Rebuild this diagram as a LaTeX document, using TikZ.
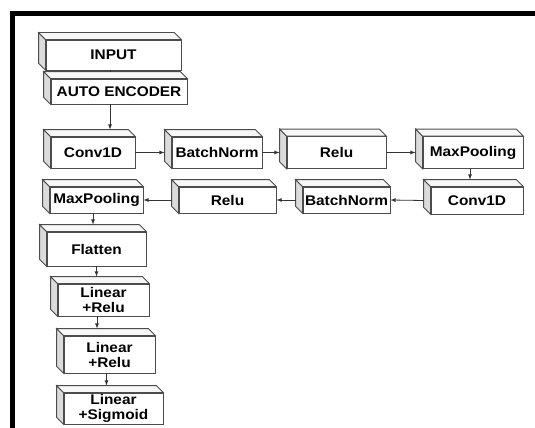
\documentclass[tikz,border=0pt]{standalone}
\usepackage{fontspec}
\newfontfamily\layerfont{Liberation Sans}[FakeStretch=1.1]
\usetikzlibrary{calc}

\tikzset{
	layer/.style={draw=black!70, line width=0.8pt, fill=white, inner sep=0pt, align=center,
		font=\layerfont\bfseries\fontsize{14}{15}\selectfont},
	sidefill/.style={draw=black!70, line width=0.8pt, fill=black!14},
	topfill/.style={draw=black!70, line width=0.8pt, fill=black!3},
	conn/.style={line width=0.8pt, draw=black!80},
}
% depth of the slanted faces
\newcommand{\dep}{7pt}
% left and top faces of a layer box, plus (name-top) on the back edge
\newcommand{\slab}[1]{%
	\draw[sidefill] (#1.north west) -- ++(-\dep,\dep) -- ([shift={(-\dep,\dep)}]#1.south west) -- (#1.south west) -- cycle;
	\draw[topfill] (#1.north west) -- ++(-\dep,\dep) -- ([shift={(-\dep,\dep)}]#1.north east) -- (#1.north east) -- cycle;
	\coordinate (#1-top) at ([shift={(-\dep,\dep)}]#1.north);
}

\begin{document}
\begin{tikzpicture}[x=1pt,y=-1pt]
	\useasboundingbox (0,0) rectangle (535,428);
	\draw[line width=5pt] (12,440) -- (12,13.5) -- (545,13.5);

	% encoder part
	\node[layer, minimum width=135, minimum height=30] (input) at (113.5,55) {INPUT};
	\node[layer, minimum width=136, minimum height=25] (auto) at (119,91.5) {AUTO ENCODER};
	\slab{input} \slab{auto}

	% first row, left to right
	\node[layer, minimum width=84, minimum height=31] (conv1) at (93,152.5) {Conv1D};
	\node[layer, minimum width=90, minimum height=31] (bn1) at (217,152.5) {BatchNorm};
	\node[layer, minimum width=99, minimum height=32] (relu1) at (336.5,152.5) {Relu};
	\node[layer, minimum width=100, minimum height=32] (pool1) at (473,152.5) {MaxPooling};
	\foreach \n in {conv1,bn1,relu1,pool1}{\slab{\n}}

	% second row, right to left
	\node[layer, minimum width=92, minimum height=27] (conv2) at (477,200.5) {Conv1D};
	\node[layer, minimum width=87, minimum height=26] (bn2) at (346.5,200) {BatchNorm};
	\node[layer, minimum width=97, minimum height=26] (relu2) at (227.5,200) {Relu};
	\node[layer, minimum width=93, minimum height=26] (pool2) at (96.5,200) {MaxPooling};
	\foreach \n in {conv2,bn2,relu2,pool2}{\slab{\n}}

	% classifier
	\node[layer, minimum width=99, minimum height=34] (flat) at (96.5,249) {Flatten};
	\node[layer, minimum width=91, minimum height=32] (lin1) at (103.5,300) {Linear\\+Relu};
	\node[layer, minimum width=91, minimum height=37] (lin2) at (109.5,354.5) {Linear\\+Relu};
	\node[layer, minimum width=99, minimum height=31] (lin3) at (113.5,408.5) {Linear\\+Sigmoid};
	\foreach \n in {flat,lin1,lin2,lin3}{\slab{\n}}

	% connectors
	\draw[conn] ([xshift=-3.5pt]input.south) -- ([xshift=-3.5pt]input.south |- auto-top);
	\draw[conn,-latex] ([xshift=-9pt]auto.south) -- ([xshift=-9pt]auto.south |- conv1-top);
	\draw[conn,-latex] (conv1.east) -- ([xshift=-\dep]bn1.west);
	\draw[conn,-latex] (bn1.east) -- ([xshift=-\dep]relu1.west);
	\draw[conn,-latex] (relu1.east) -- ([xshift=-\dep]pool1.west);
	\draw[conn,-latex] (conv2-top |- pool1.south) -- (conv2-top);
	\draw[conn,-latex] ([xshift=-\dep]conv2.west) -- (bn2.east);
	\draw[conn,-latex] ([xshift=-\dep]bn2.west) -- (relu2.east);
	\draw[conn,-latex] ([xshift=-\dep]relu2.west) -- (pool2.east);
	\draw[conn,-latex] ([xshift=-3.5pt]pool2.south) -- ([xshift=-3.5pt]pool2.south |- flat-top);
	\draw[conn,-latex] (flat.south) -- (flat.south |- lin1-top);
	\draw[conn,-latex] ([xshift=-6.5pt]lin1.south) -- ([xshift=-6.5pt]lin1.south |- lin2-top);
	\draw[conn,-latex] (lin3-top |- lin2.south) -- (lin3-top);
\end{tikzpicture}
\end{document}
